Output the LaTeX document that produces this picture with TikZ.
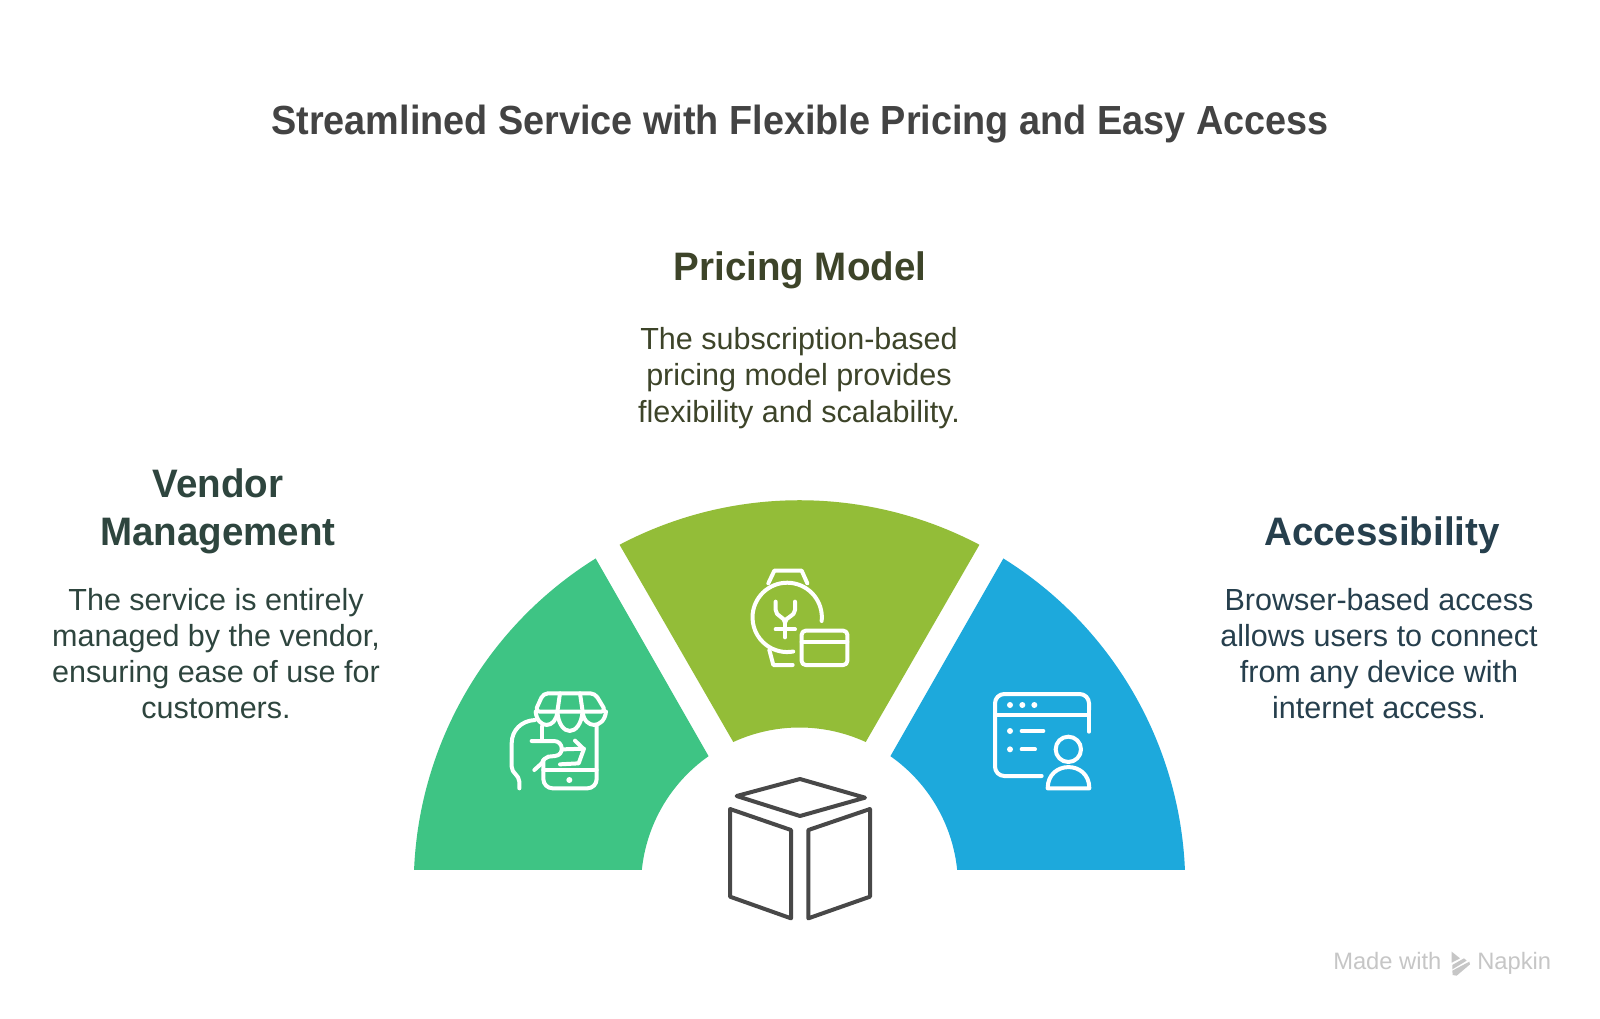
\documentclass[tikz,border=0pt]{standalone}
\usepackage{fontspec}
\setmainfont{Liberation Sans}
\newfontfamily\narrowfont[FakeStretch=0.93]{Liberation Sans}
\newfontfamily\headfont[FakeStretch=0.97]{Liberation Sans}
\definecolor{cgreen}{HTML}{3EC484}
\definecolor{colive}{HTML}{93BD38}
\definecolor{cblue}{HTML}{1DA9DC}
\definecolor{ctitle}{HTML}{434343}
\definecolor{cvendor}{HTML}{2E453E}
\definecolor{cprice}{HTML}{3D4429}
\definecolor{caccess}{HTML}{263F4D}
\definecolor{cmark}{HTML}{C6C6C6}
\definecolor{ccube}{HTML}{484848}
\tikzset{
  titletext/.style={font=\narrowfont\fontsize{30.5}{36}\selectfont\bfseries,text=ctitle,inner sep=0pt},
  headtext/.style={font=\headfont\fontsize{29.8}{36}\selectfont\bfseries,align=center,inner sep=0pt},
  bodytext/.style={font=\fontsize{22.9}{27.2}\selectfont,align=center,inner sep=0pt},
  marktext/.style={font=\fontsize{17.8}{20}\selectfont,text=cmark,inner sep=0pt},
  iconline/.style={draw=white,line width=3pt,line cap=round,line join=round},
  cubeline/.style={draw=ccube,line width=3pt,line join=round},
  wedge/.style={draw=none},
  iconscope/.style={x=.25pt,y=-.25pt}
}
\begin{document}
\begin{tikzpicture}[x=.75pt,y=-.75pt]
\useasboundingbox (0,0) rectangle (1600,1018);
\fill[white] (0,0) rectangle (1600,1018);
% wedges
\begin{scope}[shift={(799.5,886)}]
\fill[colive,wedge] (-117.8:385.8) arc[start angle=-117.8,end angle=-62.2,radius=385.8] -- (-65.3:158.5) arc[start angle=-65.3,end angle=-114.7,radius=158.5] -- cycle;
\fill[cgreen,wedge] (-121.9:385.8) arc[start angle=-121.9,end angle=-177.62,radius=385.8] -- (-174.2:158.5) arc[start angle=-174.2,end angle=-125,radius=158.5] -- cycle;
\fill[cblue,wedge] (-58.1:385.8) arc[start angle=-58.1,end angle=-2.38,radius=385.8] -- (-5.8:158.5) arc[start angle=-5.8,end angle=-55,radius=158.5] -- cycle;
\end{scope}
% texts
\node[titletext] (title) at (800,124) {Streamlined Service with Flexible Pricing and Easy Access};
\node[headtext,text=cprice] (pricehead) at (800,270) {Pricing Model};
\node[bodytext,text=cprice] (pricebody) at (799,378) {The subscription-based\\pricing model provides\\flexibility and scalability.};
\node[headtext,text=cvendor] (vendorhead) at (218,511) {Vendor\\Management};
\node[bodytext,text=cvendor] (vendorbody) at (216,653.5) {The service is entirely\\managed by the vendor,\\ensuring ease of use for\\customers.};
\node[headtext,text=caccess] (accesshead) at (1382,535) {Accessibility};
\node[bodytext,text=caccess] (accessbody) at (1379,653.5) {Browser-based access\\allows users to connect\\from any device with\\internet access.};
% store icon
\begin{scope}[shift={(480,660)},iconscope]
\draw[iconline,rounded corners=3.5pt] (190,100) -- (345,100) -- (378,155) -- (165,155) -- cycle;
\draw[iconline] (240,100) -- (232,155) (300,100) -- (308,155);
\draw[iconline] (167,155) .. controls (172,208) and (228,208) .. (232,155);
\draw[iconline] (232,155) .. controls (238,232) and (300,232) .. (308,155);
\draw[iconline] (308,155) .. controls (312,208) and (372,208) .. (378,155);
\draw[iconline,rounded corners=7pt] (350,197) -- (350,385) -- (190,385) -- (190,300);
\draw[iconline] (190,330) -- (350,330);
\draw[iconline] (185,200) -- (185,240);
\draw[iconline] (155,243) -- (222,243) .. controls (250,243) and (255,285) .. (225,288) -- (205,290) .. controls (195,292) and (190,300) .. (185,310) -- (163,330);
\draw[iconline] (165,180) .. controls (125,182) and (95,210) .. (95,250) -- (95,320) .. controls (95,340) and (118,345) .. (118,365) -- (118,385);
\draw[iconline] (250,268) -- (312,266) -- (296,310) -- (240,313);
\draw[iconline] (285,242) -- (310,266);
\fill[white] (268,360) circle[radius=9];
\end{scope}
% watch icon
\begin{scope}[shift={(730,550)},iconscope]
\draw[iconline] (115,100) -- (133,62) -- (215,62) -- (232,100);
\draw[iconline] (275,213) arc[start angle=6,end angle=-280,radius=104];
\draw[iconline] (118,300) -- (130,345) -- (188,345);
\draw[iconline] (137,155) -- (137,180) .. controls (137,200) and (165,200) .. (165,218) .. controls (165,200) and (195,200) .. (195,180) -- (195,155);
\draw[iconline] (165,218) -- (165,262) (137,238) -- (195,238);
\draw[iconline,rounded corners=3pt] (215,242) rectangle (352,345);
\draw[iconline] (215,275) -- (352,275);
\end{scope}
% browser icon
\begin{scope}[shift={(980,670)},iconscope]
\draw[iconline,rounded corners=7pt] (185,318) -- (45,318) -- (45,72) -- (327,72) -- (327,120);
\draw[iconline] (327,120) -- (327,185);
\draw[iconline] (45,135) -- (327,135);
\fill[white] (90,105) circle[radius=9] (127,105) circle[radius=9] (163,105) circle[radius=9] (90,183) circle[radius=9] (90,238) circle[radius=9];
\draw[iconline] (125,183) -- (190,183) (125,238) -- (165,238);
\draw[iconline] (265,238) circle[radius=38];
\draw[iconline] (203,355) -- (328,355) .. controls (328,270) and (203,270) .. (203,355) -- cycle;
\end{scope}
% cube
\begin{scope}[shift={(710,760)},iconscope]
\draw[cubeline] (270,57) -- (465,113) -- (270,168) -- (80,108) -- cycle;
\draw[cubeline] (60,147) -- (243,210) -- (243,475) -- (60,410) -- cycle;
\draw[cubeline] (295,210) -- (480,147) -- (480,410) -- (295,475) -- cycle;
\end{scope}
% watermark
\node[marktext,anchor=base west] (made) at (1333,969) {Made with};
\node[marktext,anchor=base west] (napkin) at (1477,969) {Napkin};
\begin{scope}[shift={(1310,930)},iconscope]
\fill[cmark] (425,65) -- (450,85) -- (425,98) -- cycle;
\fill[cmark] (427,105) -- (462,85) -- (470,92) -- (427,118) -- cycle;
\fill[cmark] (427,122) -- (478,95) -- (480,103) -- (440,137) -- (428,135) -- cycle;
\end{scope}
\end{tikzpicture}
\end{document}
